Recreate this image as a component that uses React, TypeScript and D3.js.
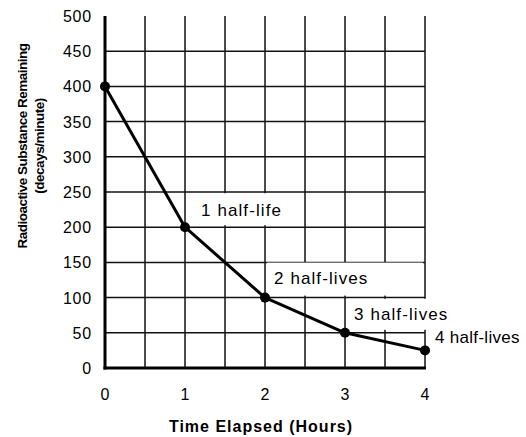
import * as d3 from "d3"

// readings from the decay graph
const hours = [0, 1, 2, 3, 4]
const activity = [400, 200, 100, 50, 25]
const pointLabels = ["", "1 half-life", "2 half-lives", "3 half-lives", "4 half-lives"]
const yTicks = [0, 50, 100, 150, 200, 250, 300, 350, 400, 450, 500]
const xTicks = [0, 1, 2, 3, 4]

// label placement relative to its point: text offset, spacing and white box behind it
const labelLayout = [
  null,
  { dx: 16, dy: -11, ls: 1.1, box: [1, -34, 116, 32] },
  { dx: 9, dy: -14, ls: 1.1, box: [2, -35, 156, 33] },
  { dx: 9, dy: -13, ls: 1.1, box: [3, -34, 92, 31] },
  { dx: 10, dy: -7, ls: 0.3, box: [0, 0, 0, 0] },
]

const W = 526
const H = 437
const FONT = "'Liberation Sans', Arial, Helvetica, sans-serif"

const App = () => {
  const x = d3.scaleLinear().domain([0, 4]).range([105, 425])
  const y = d3.scaleLinear().domain([0, 500]).range([368, 16])

  const data = hours.map((h, i) => ({ h, v: activity[i], label: pointLabels[i] }))
  const line = d3
    .line<{ h: number; v: number }>()
    .x((d) => x(d.h))
    .y((d) => y(d.v))

  const vGrid = d3.range(0.5, 4.01, 0.5)
  const hGrid = yTicks.filter((t) => t > 0 && t < 500)

  return (
    <svg
      width={W}
      height={H}
      style={{ position: "absolute", left: 0, top: 0, background: "#fff" }}
      fontFamily={FONT}
    >
      <rect width={W} height={H} fill="#fff" />
      {/* grid */}
      <g stroke="#111" strokeWidth={1.5}>
        {vGrid.map((g) => (
          <line key={"v" + g} x1={x(g)} x2={x(g)} y1={y(0)} y2={y(500)} />
        ))}
        {hGrid.map((g) => (
          <line key={"h" + g} x1={x(0)} x2={x(4)} y1={y(g)} y2={y(g)} />
        ))}
      </g>

      {/* white boxes under the labels */}
      {data.map((d, i) => {
        const l = labelLayout[i]
        if (!l || !l.box[2]) return null
        return (
          <rect
            key={"b" + i}
            x={x(d.h) + l.box[0]}
            y={y(d.v) + l.box[1]}
            width={l.box[2]}
            height={l.box[3]}
            fill="#fff"
          />
        )
      })}

      {/* axes */}
      <line x1={x(0)} x2={x(0)} y1={y(500)} y2={y(0) + 1.5} stroke="#000" strokeWidth={3} />
      <line x1={x(0) - 1.5} x2={x(4) + 1} y1={y(0)} y2={y(0)} stroke="#000" strokeWidth={3} />

      {/* decay curve */}
      <path d={line(data) || ""} fill="none" stroke="#000" strokeWidth={3} strokeLinejoin="round" />
      {data.map((d) => (
        <circle key={"c" + d.h} cx={x(d.h)} cy={y(d.v)} r={5} fill="#000" />
      ))}

      {/* point labels */}
      {data.map((d, i) => {
        const l = labelLayout[i]
        if (!l) return null
        return (
          <text
            key={"t" + i}
            x={x(d.h) + l.dx}
            y={y(d.v) + l.dy}
            fontSize={17}
            letterSpacing={l.ls}
            fill="#000"
          >
            {d.label}
          </text>
        )
      })}

      {/* tick labels */}
      {yTicks.map((t) => (
        <text key={"yt" + t} x={92} y={y(t) + 6} textAnchor="end" fontSize={16} letterSpacing={0.8} fill="#000">
          {t}
        </text>
      ))}
      {xTicks.map((t) => (
        <text key={"xt" + t} x={x(t)} y={400} textAnchor="middle" fontSize={16} fill="#000">
          {t}
        </text>
      ))}

      {/* axis titles */}
      <text x={261} y={432} textAnchor="middle" fontSize={16} fontWeight="bold" letterSpacing={1}>
        Time Elapsed (Hours)
      </text>
      <g transform="translate(27,146) rotate(-90)">
        <text x={0} y={0} textAnchor="middle" fontSize={13.5} fontWeight="bold" letterSpacing={-0.5}>
          Radioactive Substance Remaining
        </text>
        <text x={0} y={17} textAnchor="middle" fontSize={13.5} fontWeight="bold" letterSpacing={-0.5}>
          (decays/minute)
        </text>
      </g>
    </svg>
  )
}

export default App
